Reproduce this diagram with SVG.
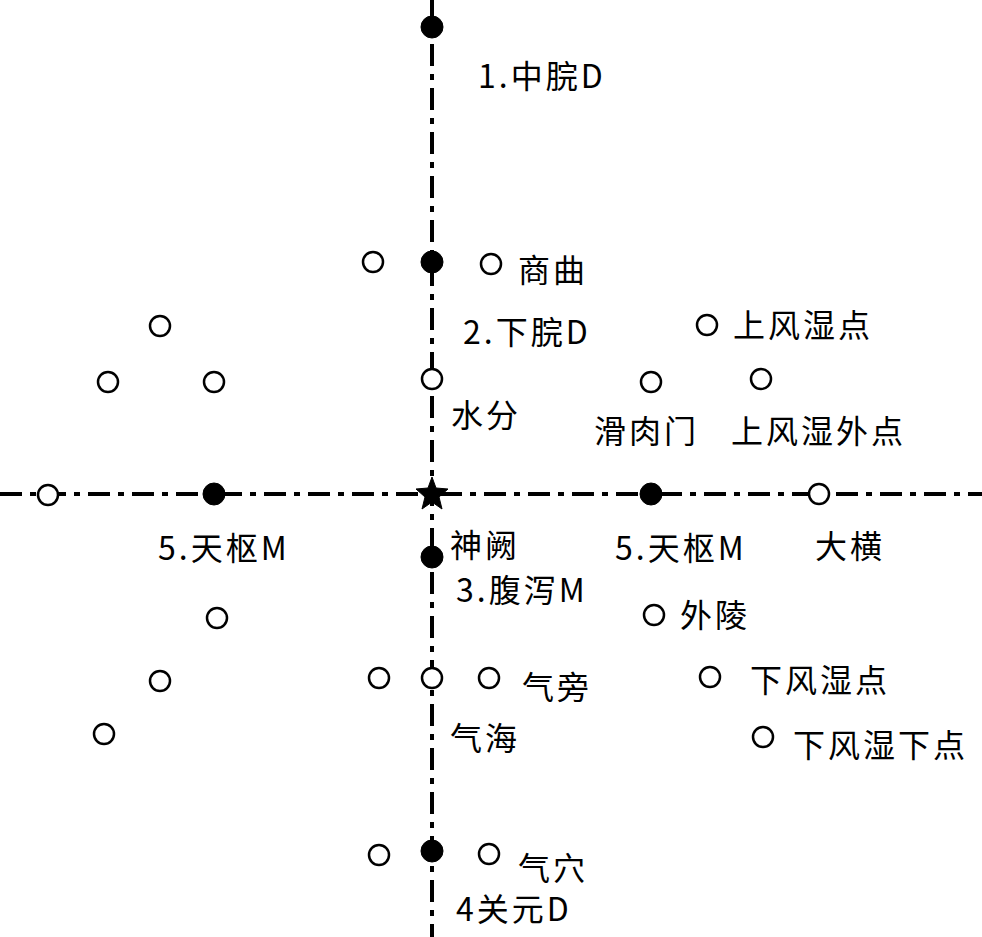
<svg xmlns="http://www.w3.org/2000/svg" width="982" height="937" viewBox="0 0 982 937">
<style>
.axis{stroke:#000;stroke-width:4;fill:none;stroke-dasharray:22 8 6 8}
.o{fill:#fff;stroke:#000;stroke-width:2.5}
.f{fill:#000;stroke:#000;stroke-width:1}
.t{font-family:"Noto Sans CJK SC","Noto Sans",sans-serif;font-size:32px;fill:#000;letter-spacing:3px}
</style>
<rect width="982" height="937" fill="#fff"/>
<g id="connectors">
<line class="axis" x1="432" y1="0" x2="432" y2="937"/>
<line class="axis" x1="0" y1="494" x2="982" y2="494"/>
</g>
<g id="zhongwan"><circle class="f" cx="432" cy="27" r="11"/><text class="t" x="478" y="88">1.中脘D</text></g>
<g id="xiawan-l"><circle class="o" cx="373" cy="262" r="10"/></g>
<g id="xiawan"><circle class="f" cx="432" cy="262" r="11"/><text class="t" x="463" y="344">2.下脘D</text></g>
<g id="shangqu"><circle class="o" cx="491" cy="264" r="10"/><text class="t" x="518" y="282">商曲</text></g>
<g id="l1"><circle class="o" cx="160" cy="326" r="10"/></g>
<g id="l2"><circle class="o" cx="108" cy="382" r="10"/></g>
<g id="l3"><circle class="o" cx="214" cy="382" r="10"/></g>
<g id="shangfengshi"><circle class="o" cx="707" cy="325" r="10"/><text class="t" x="733" y="337">上风湿点</text></g>
<g id="shuifen"><circle class="o" cx="432" cy="379" r="10"/><text class="t" x="451" y="427">水分</text></g>
<g id="huaroumen"><circle class="o" cx="651" cy="382" r="10"/><text class="t" x="594" y="443">滑肉门</text></g>
<g id="shangfengshiwai"><circle class="o" cx="761" cy="379" r="10"/><text class="t" x="731" y="443">上风湿外点</text></g>
<g id="l4"><circle class="o" cx="48" cy="495" r="10"/></g>
<g id="tianshu-l"><circle class="f" cx="214" cy="494" r="11"/><text class="t" x="158" y="560">5.天枢M</text></g>
<g id="shenque"><polygon class="f" points="432,477 436,488 448,489 439,497 442,509 432,502 422,509 425,497 416,489 428,488"/><text class="t" x="450" y="557">神阙</text></g>
<g id="tianshu-r"><circle class="f" cx="651" cy="494" r="11"/><text class="t" x="615" y="560">5.天枢M</text></g>
<g id="daheng"><circle class="o" cx="819" cy="494" r="10"/><text class="t" x="815" y="558">大横</text></g>
<g id="fuxie"><circle class="f" cx="432" cy="557" r="11"/><text class="t" x="456" y="602">3.腹泻M</text></g>
<g id="l5"><circle class="o" cx="217" cy="618" r="10"/></g>
<g id="wailing"><circle class="o" cx="654" cy="615" r="10"/><text class="t" x="680" y="627">外陵</text></g>
<g id="l6"><circle class="o" cx="160" cy="681" r="10"/></g>
<g id="qihai-l"><circle class="o" cx="379" cy="678" r="10"/></g>
<g id="qihai"><circle class="o" cx="432" cy="678" r="10"/><text class="t" x="450" y="750">气海</text></g>
<g id="qipang"><circle class="o" cx="489" cy="678" r="10"/><text class="t" x="522" y="699">气旁</text></g>
<g id="xiafengshi"><circle class="o" cx="710" cy="677" r="10"/><text class="t" x="750" y="692">下风湿点</text></g>
<g id="l7"><circle class="o" cx="104" cy="734" r="10"/></g>
<g id="xiafengshixia"><circle class="o" cx="763" cy="737" r="10"/><text class="t" x="793" y="757">下风湿下点</text></g>
<g id="guanyuan-l"><circle class="o" cx="379" cy="855" r="10"/></g>
<g id="guanyuan"><circle class="f" cx="432" cy="851" r="11"/><text class="t" x="456" y="921">4关元D</text></g>
<g id="qixue"><circle class="o" cx="489" cy="854" r="10"/><text class="t" x="518" y="880">气穴</text></g>
</svg>
